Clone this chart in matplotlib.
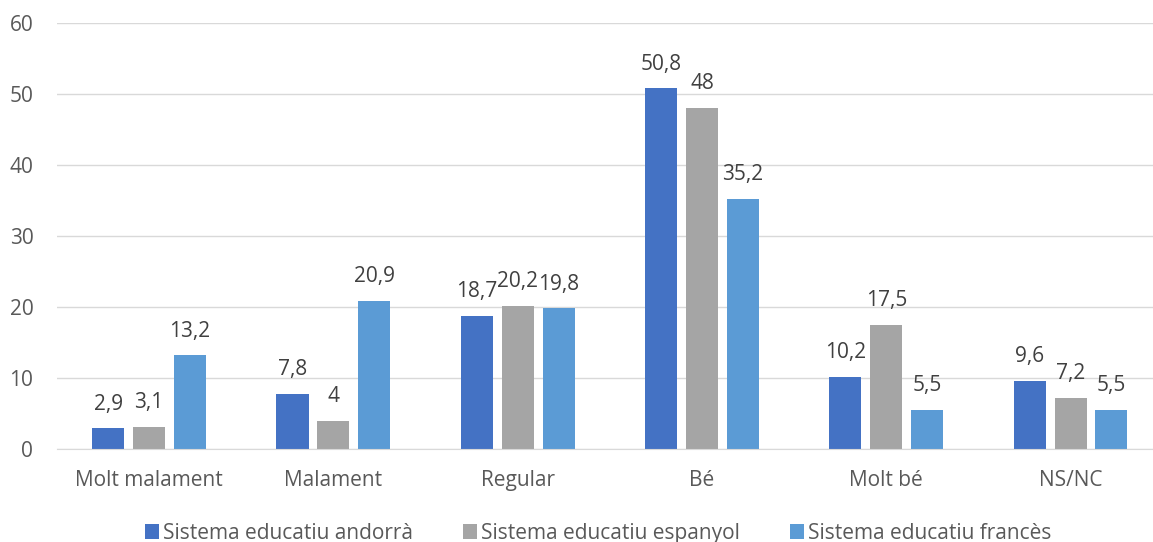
import matplotlib.pyplot as plt
import numpy as np
from matplotlib.patches import Patch

categories = ["Molt malament", "Malament", "Regular", "Bé", "Molt bé", "NS/NC"]
series_names = ["Sistema educatiu andorrà", "Sistema educatiu espanyol", "Sistema educatiu francès"]
andorra = [2.9, 7.8, 18.7, 50.8, 10.2, 9.6]
espanyol = [3.1, 4, 20.2, 48, 17.5, 7.2]
frances = [13.2, 20.9, 19.8, 35.2, 5.5, 5.5]
colors = ["#4472C4", "#A5A5A5", "#5B9BD5"]

plt.rcParams["font.family"] = ["Open Sans", "DejaVu Sans"]

fig = plt.figure(figsize=(11.53, 5.42), dpi=100)
# plot area runs slightly past the right edge (cropped in the original)
ax = fig.add_axes([0.0494, 0.1716, 0.959, 0.786])

x = np.arange(len(categories))
width = 0.174
step = 0.222
for i, (vals, col) in enumerate(zip([andorra, espanyol, frances], colors)):
    pos = x + (i - 1) * step
    ax.bar(pos, vals, width, color=col, zorder=2)
    for p, v in zip(pos, vals):
        txt = ("%g" % v).replace(".", ",")
        ax.annotate(txt, (p, v), xytext=(0, 13.5), textcoords="offset points",
                    ha="center", va="baseline", fontsize=15, color="#404040")

ax.set_xlim(-0.5, len(categories) - 0.5)
ax.set_ylim(0, 60)
ax.set_yticks(range(0, 61, 10))
ax.yaxis.grid(True, color="#D9D9D9", linewidth=1, zorder=0)
ax.set_xticks(x)
ax.set_xticklabels(categories)
ax.tick_params(axis="both", length=0, labelsize=15, colors="#595959")
ax.tick_params(axis="x", pad=15)
ax.tick_params(axis="y", pad=17)
for s in ["top", "right", "left"]:
    ax.spines[s].set_visible(False)
ax.spines["bottom"].set_color("#D9D9D9")

handles = [Patch(facecolor=c, label=n) for c, n in zip(colors, series_names)]
leg = fig.legend(handles=handles, loc="lower center", bbox_to_anchor=(0.519, -0.038), ncol=3,
                 frameon=False, fontsize=15, handlelength=0.67, handleheight=0.67,
                 handletextpad=0.2, columnspacing=2.4)
for t in leg.get_texts():
    t.set_color("#595959")

fig.savefig("out.png", dpi=100)
